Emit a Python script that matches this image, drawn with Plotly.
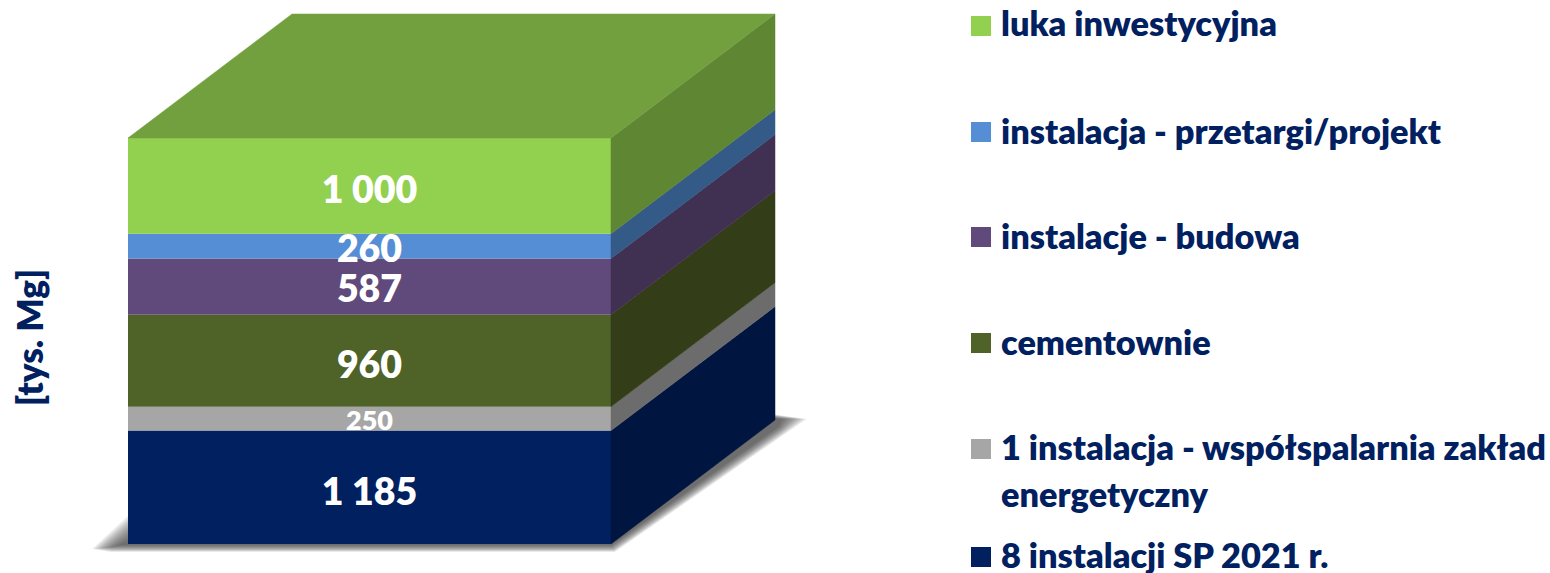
import plotly.graph_objects as go

W, H = 1550, 573

# ---- data (bottom to top) ----
categories = ["8 instalacji SP 2021 r.",
              "1 instalacja - współspalarnia zakład<br>energetyczny",
              "cementownie", "instalacje - budowa",
              "instalacja - przetargi/projekt", "luka inwestycyjna"]
values = [1185, 250, 960, 587, 260, 1000]
value_labels = ["1 185", "250", "960", "587", "260", "1 000"]
label_sizes = [37.5, 27, 37.5, 37.5, 37.5, 37.5]
label_shift = [8, 5, 8, 6, 6, 8]

front_colors = ["#002060", "#A6A6A6", "#4F6228", "#604A7B", "#558ED5", "#92D050"]
side_colors = ["#00153F", "#6C6C6C", "#333D18", "#403152", "#345A88", "#5F8733"]
top_color = "#72A03E"

legend_y = [557, 449, 344, 238, 133, 26]
TEXT = "#002060"
FONT = "Lato"

# ---- geometry of the axes: pixel-to-unit scale ----
PX = 406 / sum(values)          # px per value unit
BASE_PX = 544
Y0 = -(H - BASE_PX) / PX
Y1 = BASE_PX / PX
X_L, X_R = 128, 611
DX, DY = 164, 124 / PX
xc = (X_L + X_R) / 2


def up(px):
    return px / PX


fig = go.Figure()

# front faces
base = 0
bases, mids = [], []
for c, v, col in zip(categories, values, front_colors):
    fig.add_bar(x=[xc], y=[v], base=[base], width=[X_R - X_L], name=c,
                marker=dict(color=col, line=dict(width=0)), showlegend=False)
    bases.append(base)
    mids.append(base + v / 2)
    base += v
total = base

# side faces
for b, v, col in zip(bases, values, side_colors):
    fig.add_scatter(x=[X_R, X_R + DX, X_R + DX, X_R, X_R],
                    y=[b, b + DY, b + v + DY, b + v, b],
                    fill="toself", fillcolor=col, mode="lines",
                    line=dict(width=0.5, color=col), showlegend=False, hoverinfo="skip")

# top face
fig.add_scatter(x=[X_L, X_R, X_R + DX, X_L + DX, X_L],
                y=[total, total, total + DY, total + DY, total],
                fill="toself", fillcolor=top_color, mode="lines",
                line=dict(width=0.5, color=top_color), showlegend=False, hoverinfo="skip")

# value labels
fig.add_scatter(x=[xc] * len(values),
                y=[m + up(-s) for m, s in zip(mids, label_shift)],
                mode="text", text=value_labels,
                textfont=dict(color="white", size=label_sizes, family=FONT, weight=800),
                textposition="middle center", showlegend=False, hoverinfo="skip")

# soft shadow below the cube (stacked translucent layers give the blur)
shapes = []
n = 16
for i in range(n):
    g = 1 - i / (n - 1)
    pts = [
        (X_L + 6, up(6 + 28 * g)),                          # up the left side
        (X_L - 12 - 24 * g, up(-3 - 2 * g)),                # left tip
        (X_L - 8 - 10 * g, up(-1 - 7 * g)),
        (X_R + 4 * g, up(-1 - 7 * g)),                      # under the front edge
        (X_R + DX + 4 + 6 * g, up(124 - 6 - 8 * g)),        # along the side edge
        (X_R + DX + 6 + 26 * g, up(124 + 1)),               # right tip
        (X_R + DX - 4, up(124 + 2 + 4 * g)),
    ]
    path = "M " + " L ".join(f"{x},{y}" for x, y in pts) + " Z"
    shapes.append(dict(type="path", path=path, xref="x", yref="y", layer="below",
                       fillcolor="rgba(50,50,50,0.065)", line=dict(width=0)))

# legend squares and texts
annotations = []
for c, col, py in zip(categories, front_colors, legend_y):
    shapes.append(dict(type="rect", xref="x", yref="paper",
                       x0=971, x1=991, y0=1 - (py + 10 - (py != 26 and py != 557 and py != 449)) / H,
                       y1=1 - (py - 10 - (py != 26 and py != 557 and py != 449)) / H,
                       fillcolor=col, line=dict(width=0)))
    for k, line in enumerate(c.split("<br>")):
        annotations.append(dict(x=999, y=1 - (py - 3 + k * 47) / H, xref="x", yref="paper",
                                text=line, showarrow=False, xanchor="left", yanchor="middle",
                                font=dict(size=34.3, color=TEXT, family=FONT, weight=800)))

# axis title
annotations.append(dict(x=29, y=1 - 338 / H, xref="x", yref="paper", text="[tys. Mg]",
                        textangle=-90, showarrow=False, xanchor="center", yanchor="middle",
                        font=dict(size=35, color=TEXT, family=FONT, weight=800)))

fig.update_layout(width=W, height=H, margin=dict(l=0, r=0, t=0, b=0),
                  paper_bgcolor="white", plot_bgcolor="white",
                  barmode="overlay", showlegend=False,
                  shapes=shapes, annotations=annotations,
                  xaxis=dict(range=[0, W], visible=False, fixedrange=True),
                  yaxis=dict(range=[Y0, Y1], visible=False, fixedrange=True))

fig.write_html("out.html", config={"displayModeBar": False},
               post_script="document.body.style.margin='0';document.documentElement.style.overflow='hidden';")
